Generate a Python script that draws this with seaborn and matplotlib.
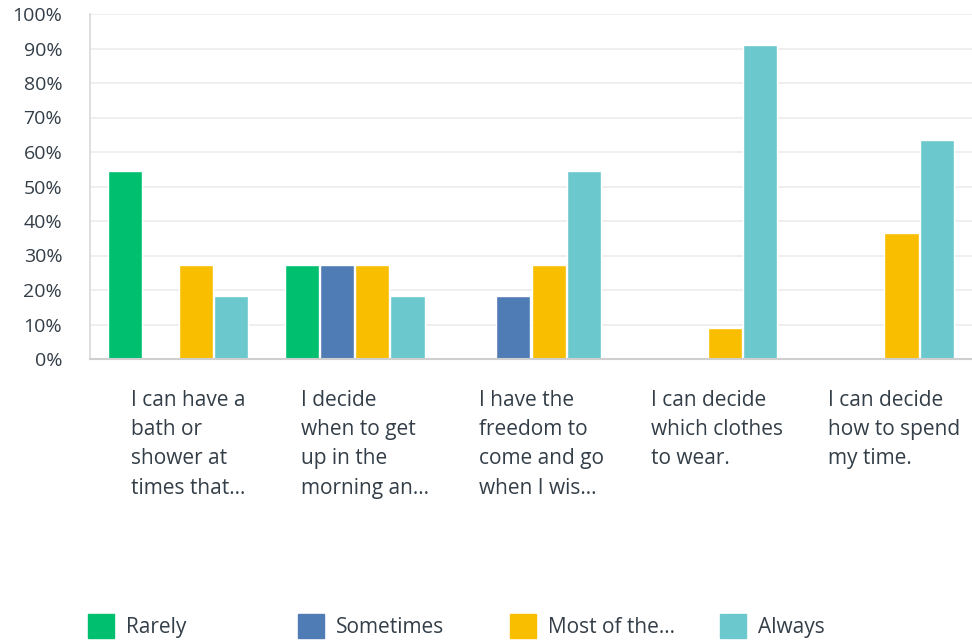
import pandas as pd
import matplotlib.pyplot as plt
import matplotlib.patches as mpatches
import matplotlib.transforms as mtransforms
import seaborn as sns

# данные (в процентах)
questions = ['I can have a\nbath or\nshower at\ntimes that…',
             'I decide\nwhen to get\nup in the\nmorning an…',
             'I have the\nfreedom to\ncome and go\nwhen I wis…',
             'I can decide\nwhich clothes\nto wear.',
             'I can decide\nhow to spend\nmy time.']
answers = ['Rarely', 'Sometimes', 'Most of the…', 'Always']
rarely = [54.5, 27.3, 0, 0, 0]
sometimes = [0, 27.3, 18.2, 0, 0]
most_of_the = [27.3, 27.3, 27.3, 9.1, 36.4]
always = [18.2, 18.2, 54.5, 90.9, 63.6]
colors = ['#00bf6f', '#507cb6', '#f9be00', '#6bc8cd']

rows = []
for ans, vals in zip(answers, [rarely, sometimes, most_of_the, always]):
    for q, v in zip(questions, vals):
        rows.append({'question': q, 'answer': ans, 'pct': v})
df = pd.DataFrame(rows)

sns.set_style('white')
plt.rcParams['font.family'] = ['Open Sans', 'DejaVu Sans']
txt = '#333e48'

fig = plt.figure(figsize=(9.72, 6.4), dpi=100)
ax = fig.add_axes([90/972, 1-359/640, 882/972, 345/640])
sns.barplot(data=df, x='question', y='pct', hue='answer', hue_order=answers,
            palette=colors, width=0.8, gap=0.03, saturation=1, ax=ax,
            legend=False, errorbar=None)

ax.set_ylim(0, 100)
ax.set_yticks(range(0, 101, 10))
ax.set_yticklabels([f'{t}%' for t in range(0, 101, 10)])
ax.grid(axis='y', color='#ececec', linewidth=1.2)
ax.set_axisbelow(True)
ax.set_xlabel('')
ax.set_ylabel('')
for s in ['top', 'right']:
    ax.spines[s].set_visible(False)
ax.spines['left'].set_color('#d9d9d9')
ax.spines['bottom'].set_color('#cfcfcf')
ax.spines['left'].set_linewidth(1.2)
ax.spines['bottom'].set_linewidth(1.5)
ax.tick_params(axis='y', length=0, pad=20, labelsize=14, labelcolor=txt)
ax.tick_params(axis='x', length=0, pad=22, labelsize=15, labelcolor=txt)
# подписи чуть правее центра группы, как в оригинале
shift = mtransforms.ScaledTranslation(10/100, 0, fig.dpi_scale_trans)
for lab in ax.get_xticklabels():
    lab.set_multialignment('left')
    lab.set_linespacing(1.52)
    lab.set_verticalalignment('top')
    lab.set_transform(lab.get_transform() + shift)

# легенда внизу
xs = [88, 298, 510, 720]
for ans, col, x0 in zip(answers, colors, xs):
    h = mpatches.Patch(facecolor=col, edgecolor=col)
    fig.legend(handles=[h], labels=[ans], loc='lower left',
               bbox_to_anchor=(x0/972, 2/640), frameon=False,
               borderaxespad=0, borderpad=0,
               fontsize=15, labelcolor=txt, handlelength=1.25, handleheight=1.4,
               handletextpad=0.55)

fig.savefig('out.png', dpi=100)
